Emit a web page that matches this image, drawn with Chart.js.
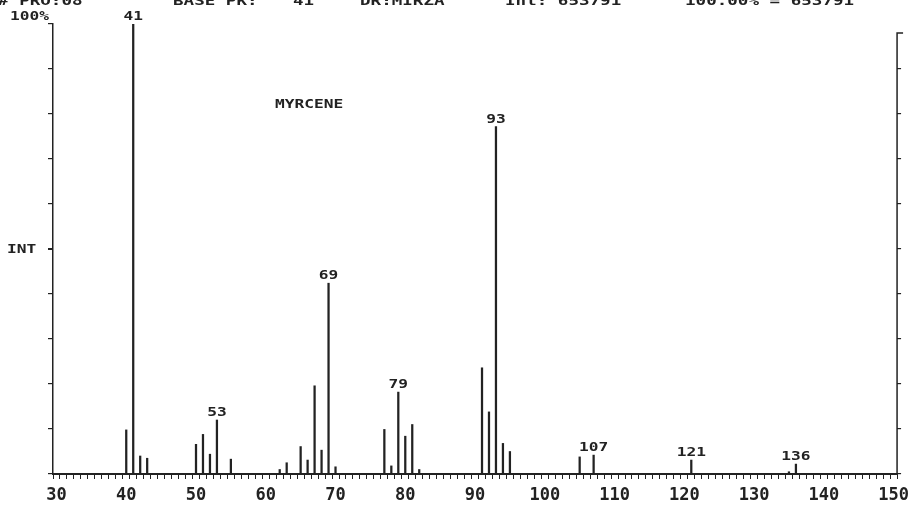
<!DOCTYPE html>
<html>
<head>
<meta charset="utf-8">
<script src="https://cdn.jsdelivr.net/npm/chart.js@4.4.1/dist/chart.umd.min.js"></script>
<style>
  html, body { margin: 0; padding: 0; background: #fff; }
  canvas { display: block; }
</style>
</head>
<body>
<canvas id="espectro" width="915" height="506"></canvas>
<script>
// Espectro de massas - MYRCENE (m/z x intensidade relativa %)
const massas = [40, 41, 42, 43, 50, 51, 52, 53, 55, 62, 63, 65, 66, 67, 68, 69, 70,
  77, 78, 79, 80, 81, 82, 91, 92, 93, 94, 95, 105, 107, 121, 135, 136];
const intensidades = [9.8, 100, 4.0, 3.5, 6.6, 8.8, 4.4, 12.0, 3.3, 1.0, 2.5, 6.1, 3.1, 19.6, 5.3, 42.4, 1.6,
  9.9, 1.8, 18.2, 8.4, 11.0, 1.0, 23.6, 13.8, 77.2, 6.8, 5.0, 3.8, 4.2, 3.1, 0.5, 2.2];
const picosRotulados = [41, 53, 69, 79, 93, 107, 121, 136];
const rotulosCabecalho = ["# PRO:08", "BASE PK:", "41", "DR:MIRZA", "Int: 653791", "100.00% = 653791"];
const nomeComposto = "MYRCENE";

const TINTA = "#222";

const escreve = (ctx, s, x, y, align, tam) => {
  ctx.save();
  ctx.font = `bold ${tam || 12}px "DejaVu Sans Mono"`;
  ctx.fillStyle = TINTA;
  ctx.textAlign = align || "left";
  ctx.textBaseline = "alphabetic";
  ctx.translate(x, y);
  ctx.scale(1.35, 1);
  ctx.fillText(s, 0, 0);
  ctx.restore();
};

const anotacoes = {
  id: "anotacoes",
  afterDraw(chart) {
    const ctx = chart.ctx;
    const xs = chart.scales.x;
    const ys = chart.scales.y;
    const area = chart.chartArea;

    // cabeçalho (cortado no topo)
    const posCab = [-2, 173, 293, 360, 505, 685];
    rotulosCabecalho.forEach((t, i) => escreve(ctx, t, posCab[i], 5, "left", 13));

    escreve(ctx, "100%", 10, 20);
    escreve(ctx, "INT", 7, 253, "left", 12);
    escreve(ctx, nomeComposto, 275, 108);

    // rótulos dos picos
    picosRotulados.forEach((m) => {
      const v = intensidades[massas.indexOf(m)];
      escreve(ctx, String(m), xs.getPixelForValue(m), ys.getPixelForValue(v) - 4, "center");
    });

    // eixo direito
    ctx.save();
    ctx.strokeStyle = TINTA;
    ctx.lineWidth = 1.5;
    ctx.beginPath();
    ctx.moveTo(area.right + 6, area.top + 9);
    ctx.lineTo(area.right, area.top + 9);
    ctx.lineTo(area.right, area.bottom);
    ctx.stroke();
    ctx.restore();
  }
};

new Chart(document.getElementById("espectro"), {
  type: "bar",
  data: {
    datasets: [{
      data: massas.map((m, i) => ({ x: m, y: intensidades[i] })),
      backgroundColor: TINTA,
      borderWidth: 0,
      barThickness: 1.6
    }]
  },
  options: {
    responsive: false,
    animation: false,
    layout: { padding: { top: 24, left: 0, right: 0, bottom: 0 } },
    plugins: {
      legend: { display: false },
      tooltip: { enabled: false }
    },
    scales: {
      x: {
        type: "linear",
        min: 30,
        max: 150,
        afterFit(scale) { scale.height = 32; },
        ticks: {
          stepSize: 1,
          autoSkip: false,
          maxRotation: 0,
          padding: 6,
          color: TINTA,
          font: { family: "DejaVu Sans Mono", size: 17, weight: "bold" },
          callback: (v) => (v % 10 === 0 ? String(v) : "")
        },
        grid: { drawOnChartArea: false, tickLength: 5, color: TINTA, lineWidth: 1 },
        border: { color: TINTA, width: 2 }
      },
      y: {
        min: 0,
        max: 100,
        position: "left",
        afterFit(scale) { scale.width = 53; },
        ticks: { stepSize: 10, display: false },
        grid: {
          drawOnChartArea: false,
          tickLength: 5,
          color: TINTA,
          lineWidth: (c) => (c.tick && c.tick.value === 50 ? 2 : 1.2)
        },
        border: { color: TINTA, width: 1.5 }
      },
      y2: {
        min: 0,
        max: 100,
        position: "right",
        afterFit(scale) { scale.width = 16; },
        afterBuildTicks(scale) { scale.ticks = scale.ticks.filter((t) => t.value < 100); },
        ticks: { stepSize: 10, display: false },
        grid: { drawOnChartArea: false, tickLength: 4, color: TINTA, lineWidth: 1.2 },
        border: { display: false }
      }
    }
  },
  plugins: [anotacoes]
});
</script>
</body>
</html>
